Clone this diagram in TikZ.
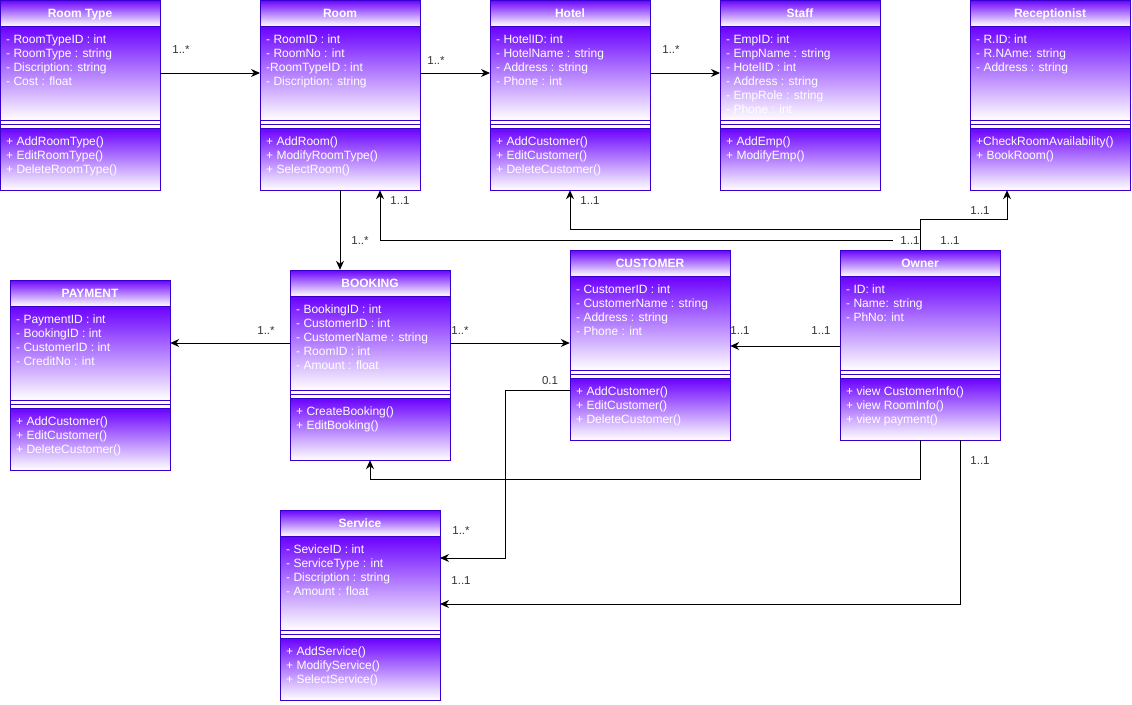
\documentclass[tikz,border=0pt]{standalone}
\usepackage{fontspec}
\setmainfont{Liberation Sans}
\usetikzlibrary{positioning,fit,arrows.meta}
\definecolor{umlpurple}{HTML}{6A00FF}
\definecolor{umledge}{HTML}{3700CC}
\definecolor{multgray}{HTML}{333333}

% #1 name, #2 top left corner, #3 title, #4 attributes, #5 operations
\newcommand{\umlcls}[5]{%
 \node[hd,anchor=north west] (#1-t) at (#2) {#3};
 \node[part,below=0pt of #1-t,minimum height=94] (#1-a) {};
 \node[divider,below=0pt of #1-a] (#1-s) {};
 \node[part,below=0pt of #1-s,minimum height=62] (#1-m) {};
 \draw[umledge] (#1-s.west) -- (#1-s.east);
 \node[txt] (#1-at) at ([xshift=6pt,yshift=-8.5pt]#1-a.north west) {#4};
 \node[txt] (#1-mt) at ([xshift=6pt,yshift=-8.5pt]#1-m.north west) {#5};
 \node[fit=(#1-t)(#1-m),inner sep=0pt] (#1) {};
}

\begin{document}
\begin{tikzpicture}[x=1pt,y=-1pt,
 hd/.style={draw=umledge,top color=umlpurple,bottom color=white,minimum width=160,minimum height=26,inner sep=0pt,outer sep=0pt,text height=8.6pt,text depth=0pt,text=white,font=\fontsize{12}{14}\selectfont\bfseries},
 part/.style={draw=umledge,top color=umlpurple,bottom color=white,minimum width=160,inner sep=0pt,outer sep=0pt},
 divider/.style={draw=umledge,fill=white,minimum width=160,minimum height=8,inner sep=0pt,outer sep=0pt},
 txt/.style={anchor=north west,inner sep=0pt,align=left,text=white,font=\fontsize{12}{14}\selectfont},
 mult/.style={inner sep=0pt,text=multgray,font=\fontsize{11.5}{13}\selectfont},
 ar/.style={-{Stealth[length=9pt,width=8pt]},line width=1pt}]
\useasboundingbox (0,0) rectangle (1132,704);

\umlcls{rtype}{0,0}{Room Type}
 {- RoomTypeID : int\\ - RoomType : string\\ - Discription: string\\ - Cost : float}
 {+ AddRoomType()\\ + EditRoomType()\\ + DeleteRoomType()}
\umlcls{room}{260,0}{Room}
 {- RoomID : int\\ - RoomNo : int\\ -RoomTypeID : int\\ - Discription: string}
 {+ AddRoom()\\ + ModifyRoomType()\\ + SelectRoom()}
\umlcls{hotel}{490,0}{Hotel}
 {- HotelID: int\\ - HotelName : string\\ - Address : string\\ - Phone : int}
 {+ AddCustomer()\\ + EditCustomer()\\ + DeleteCustomer()}
\umlcls{staff}{720,0}{Staff}
 {- EmpID: int\\ - EmpName : string\\ - HotelID : int\\ - Address : string\\ - EmpRole : string\\ - Phone : int}
 {+ AddEmp()\\ + ModifyEmp()}
\umlcls{recep}{970,0}{Receptionist}
 {- R.ID: int\\ - R.NAme: string\\ - Address : string}
 {+CheckRoomAvailability()\\ + BookRoom()}
\umlcls{payment}{10,280}{PAYMENT}
 {- PaymentID : int\\ - BookingID : int\\ - CustomerID : int\\ - CreditNo : int}
 {+ AddCustomer()\\ + EditCustomer()\\ + DeleteCustomer()}
\umlcls{booking}{290,270}{BOOKING}
 {- BookingID : int\\ - CustomerID : int\\ - CustomerName : string\\ - RoomID : int\\ - Amount : float}
 {+ CreateBooking()\\ + EditBooking()}
\umlcls{customer}{570,250}{CUSTOMER}
 {- CustomerID : int\\ - CustomerName : string\\ - Address : string\\ - Phone : int}
 {+ AddCustomer()\\ + EditCustomer()\\ + DeleteCustomer()}
\umlcls{owner}{840,250}{Owner}
 {- ID: int\\ - Name: string\\ - PhNo: int}
 {+ view CustomerInfo()\\ + view RoomInfo()\\ + view payment()}
\umlcls{service}{280,510}{Service}
 {- SeviceID : int\\ - ServiceType : int\\ - Discription : string\\ - Amount : float}
 {+ AddService()\\ + ModifyService()\\ + SelectService()}

% associations
\draw[ar] (rtype-a.east) -- (room-a.west);
\draw[ar] (room-a.east) -- (hotel-a.west);
\draw[ar] (hotel-a.east) -- (staff-a.west);
\draw[ar] (room.south) -- (room.south |- booking.north);
\draw[ar] (booking-a.west) -- (booking-a.west -| payment.east);
\draw[ar] (booking-a.east) -- (booking-a.east -| customer.west);
\coordinate (own-cu) at ([yshift=-23pt]owner-a.west);
\draw[ar] (own-cu) -- (own-cu -| customer.east);
\draw[ar] (owner.north) -- ++(0,-30) -| ([xshift=-43pt]recep.south);
\coordinate (own-rm) at (893,240);
\draw[ar] (own-rm) -| ([xshift=40pt]room.south);
\draw[ar] (owner.north) -- ++(0,-20) -| (hotel.south);
\draw[ar] (owner.south) -- ++(0,39) -| (booking.south);
\draw[ar] ([yshift=19pt]customer-m.west) -- ++(-65,0) |- ([yshift=25pt]service-a.east);
\draw[ar] ([xshift=40pt]owner.south) |- ([yshift=-21pt]service-a.east);

% multiplicities
\node[mult] (m1) at (181,50) {1..*}; \node[mult] (m2) at (436,61) {1..*};
\node[mult] (m3) at (671,50) {1..*}; \node[mult] (m4) at (360,241) {1..*};
\node[mult] (m5) at (400,201) {1..1}; \node[mult] (m6) at (590,201) {1..1};
\node[mult] (m7) at (980,211) {1..1}; \node[mult] (m8) at (910,241) {1..1};
\node[mult] (m9) at (950,241) {1..1}; \node[mult] (m10) at (266,331) {1..*};
\node[mult] (m11) at (460,331) {1..*}; \node[mult] (m12) at (740,331) {1..1};
\node[mult] (m13) at (821,331) {1..1}; \node[mult] (m14) at (550,381) {0.1};
\node[mult] (m15) at (980,461) {1..1}; \node[mult] (m16) at (461,531) {1..*};
\node[mult] (m17) at (461,581) {1..1};
\end{tikzpicture}
\end{document}
